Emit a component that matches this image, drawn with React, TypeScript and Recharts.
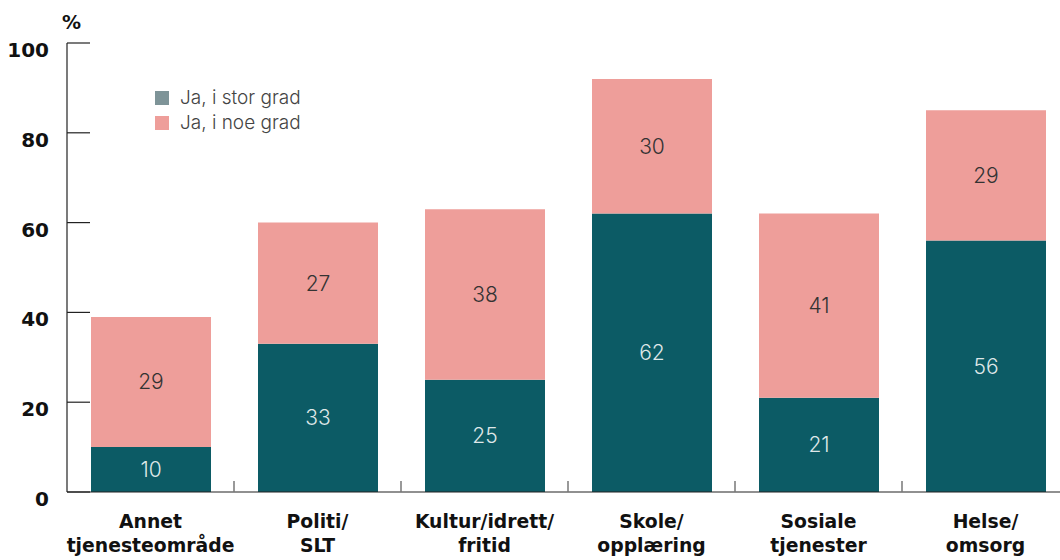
import React from "react";
import { BarChart, Bar, XAxis, YAxis, LabelList } from "recharts";

const categories = [
  "Annet\ntjenesteområde",
  "Politi/\nSLT",
  "Kultur/idrett/\nfritid",
  "Skole/\nopplæring",
  "Sosiale\ntjenester",
  "Helse/\nomsorg",
];
const storGrad = [10, 33, 25, 62, 21, 56];
const noeGrad = [29, 27, 38, 30, 41, 29];
const yTicks = [0, 20, 40, 60, 80, 100];
const legendItems = ["Ja, i stor grad", "Ja, i noe grad"];

const data = categories.map((c, i) => ({ name: c, stor: storGrad[i], noe: noeGrad[i] }));

const TEAL = "#0c5b65";
const PINK = "#ee9e9a";
const LEGEND_COLORS = ["#7e9498", PINK];
const FONT = "Inter, 'Noto Sans', sans-serif";
const BOLD = "'DejaVu Sans', sans-serif";

const YTick = (props: any) => {
  const { x, y, payload } = props;
  return (
    <g>
      <line x1={x} x2={x + 23} y1={y} y2={y} stroke="#222" strokeWidth={1.2} />
      <text x={x - 18} y={y + 14} textAnchor="end" fontFamily={BOLD} fontWeight={700} fontSize={20} fill="#111">
        {payload.value}
      </text>
    </g>
  );
};

const XTick = (props: any) => {
  const { x, y, payload, index } = props;
  const lines = String(payload.value).split("\n");
  const half = (1069 - 67) / 6 / 2;
  return (
    <g>
      {index > 0 && <line x1={x - half} x2={x - half} y1={y} y2={y - 11} stroke="#777" strokeWidth={1.5} />}
      {lines.map((l, i) => (
        <text key={i} x={x} y={y + 36 + i * 24} textAnchor="middle" fontFamily={BOLD} fontWeight={700} fontSize={18.8} fill="#111">
          {l}
        </text>
      ))}
    </g>
  );
};

export default function App() {
  return (
    <div style={{ position: "absolute", left: 0, top: 0, width: 1060, height: 560, background: "#fff", overflow: "hidden" }}>
      <BarChart width={1069} height={560} data={data} margin={{ top: 43, right: 0, bottom: 0, left: 0 }} barCategoryGap={0} style={{ overflow: "hidden" }}>
        <text x={62} y={29} fontFamily={BOLD} fontWeight={700} fontSize={19} fill="#111">%</text>
        <YAxis
          type="number"
          domain={[0, 100]}
          ticks={yTicks}
          width={67}
          tickSize={0}
          tickMargin={0}
          tickLine={false}
          axisLine={{ stroke: "#222", strokeWidth: 1.2 }}
          tick={<YTick />}
          interval={0}
        />
        <XAxis
          dataKey="name"
          height={68}
          tickLine={false}
          tickSize={0}
          tickMargin={0}
          axisLine={{ stroke: "#222", strokeWidth: 1.2 }}
          tick={<XTick />}
          interval={0}
        />
        <Bar dataKey="stor" stackId="a" fill={TEAL} barSize={120} isAnimationActive={false}>
          <LabelList dataKey="stor" position="center" fill="#dfe7e8" fontFamily={FONT} fontWeight={300} fontSize={21} />
        </Bar>
        <Bar dataKey="noe" stackId="a" fill={PINK} barSize={120} isAnimationActive={false}>
          <LabelList dataKey="noe" position="center" fill="#333" fontFamily={FONT} fontWeight={300} fontSize={21} />
        </Bar>
      </BarChart>
      <div style={{ position: "absolute", left: 155, top: 85, fontFamily: FONT, fontWeight: 300, fontSize: 19, color: "#444", lineHeight: "25px" }}>
        {legendItems.map((label, i) => (
          <div key={label} style={{ display: "flex", alignItems: "center" }}>
            <span style={{ display: "inline-block", width: 14, height: 14, background: LEGEND_COLORS[i], marginRight: 11 }} />
            <span>{label}</span>
          </div>
        ))}
      </div>
    </div>
  );
}
